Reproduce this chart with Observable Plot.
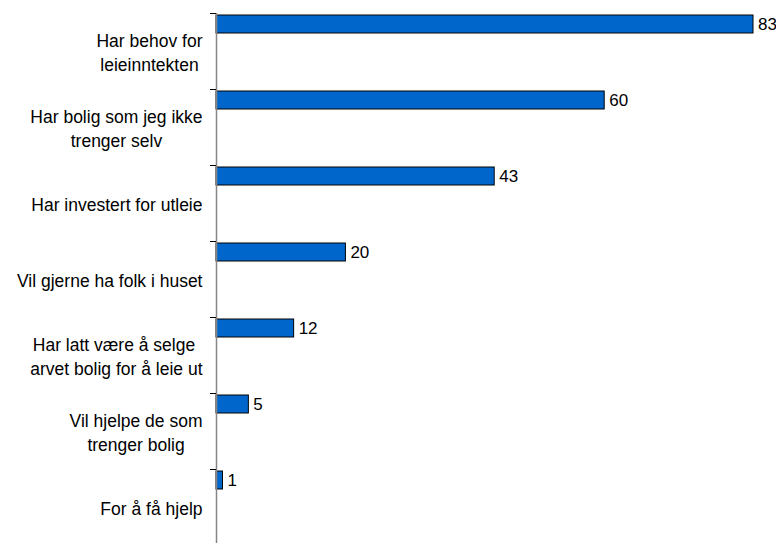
<!DOCTYPE html>
<html><head><meta charset="utf-8">
<script src="https://cdn.jsdelivr.net/npm/d3@7"></script>
<script src="https://cdn.jsdelivr.net/npm/@observablehq/plot@0.6"></script>
<style>body{margin:0;background:#fff;} svg{display:block}</style>
</head><body><div id="chart"></div>
<script>
const categories = [
  "Har behov for\nleieinntekten",
  "Har bolig som jeg ikke\ntrenger selv",
  "Har investert for utleie",
  "Vil gjerne ha folk i huset",
  "Har latt være å selge \narvet bolig for å leie ut",
  "Vil hjelpe de som\ntrenger bolig",
  "For å få hjelp"
];
const values = [83, 60, 43, 20, 12, 5, 1];
const data = categories.map((label, i) => ({label, value: values[i]}));

const width = 776, height = 543, marginTop = 13, marginBottom = -2, marginLeft = 216, marginRight = 23;
const step = (height - marginTop - marginBottom) / categories.length;
const barTop = 2, barHeight = 18;
const font = "'Liberation Sans', Arial, sans-serif";
const fontSize = 17.5;

const chart = Plot.plot({
  width, height, marginTop, marginBottom, marginLeft, marginRight,
  style: {fontFamily: font, fontSize: fontSize + "px", background: "white", color: "black", overflow: "visible"},
  x: {domain: [0, d3.max(values)], axis: null, label: null},
  y: {domain: categories, padding: 0, label: null},
  marks: [
    Plot.barX(data, {x: "value", y: "label", fill: "#0066CC", stroke: "#000", strokeWidth: 1,
      insetTop: barTop, insetBottom: step - barTop - barHeight}),
    Plot.ruleX([0], {stroke: "#868686", strokeWidth: 1.5}),
    Plot.axisY({tickSize: 6, tickFormat: () => "", dy: -step / 2, stroke: "#000"}),
    Plot.axisY({tickSize: 0, tickPadding: 14, fontSize, lineHeight: 1.33, fill: "black"}),
    Plot.text(data, {x: "value", y: "label", text: d => String(d.value), textAnchor: "start",
      dx: 4.5, dy: barTop + barHeight / 2 - step / 2, fontSize: 17, fill: "black"})
  ]
});
document.getElementById("chart").append(chart);
chart.querySelectorAll('g[aria-label="y-axis tick label"] text').forEach(t => {
  const spans = t.querySelectorAll("tspan");
  if (!spans.length) return;
  t.style.whiteSpace = "pre";
  const w = Math.max(...Array.from(spans, s => s.getComputedTextLength()));
  t.setAttribute("text-anchor", "middle");
  spans.forEach(s => s.setAttribute("x", -w / 2));
});
</script>
</body></html>
